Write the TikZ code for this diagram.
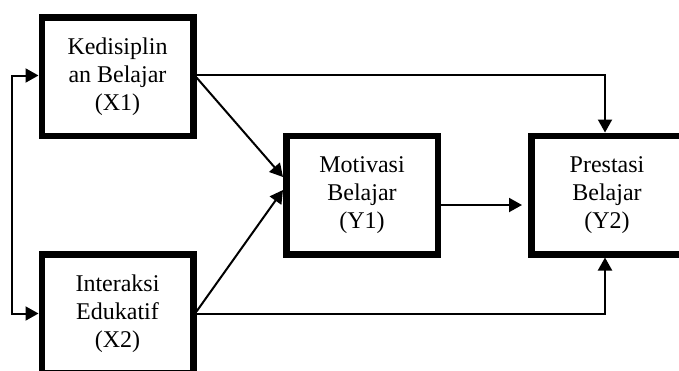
\documentclass[tikz,border=0pt]{standalone}
\usepackage{fontspec}
\setmainfont{Liberation Serif}
\usetikzlibrary{arrows.meta}
\begin{document}
\begin{tikzpicture}[x=1pt,y=-1pt,
  boxnode/.style={draw, line width=6.5pt, minimum width=151.5pt, minimum height=118.5pt,
    inner sep=0pt, align=center, font={\fontsize{24pt}{28pt}\selectfont}},
  conn/.style={line width=2pt, -{Triangle[length=13pt,width=14pt]}},
  conn2/.style={line width=2pt, {Triangle[length=13pt,width=14pt]}-{Triangle[length=13pt,width=14pt]}}]
\clip (0,0) rectangle (679,370);
\fill[white] (0,0) rectangle (679,370);
\node[boxnode] (x1) at (117.5,76.5) {Kedisiplin\\an Belajar\\(X1)};
\node[boxnode] (x2) at (117.5,313.5) {Interaksi\\Edukatif\\(X2)};
\node[boxnode] (y1) at (362,195) {Motivasi\\Belajar\\(Y1)};
\node[boxnode] (y2) at (607,195) {Prestasi\\Belajar\\(Y2)};
\draw[conn] ([yshift=1.5pt]x1.east) -| ([xshift=-2pt]y2.north);
\draw[conn] (x2.east) -| ([xshift=-2pt]y2.south);
\draw[conn] ([yshift=-1pt]x1.east) -- ([yshift=18pt]y1.west);
\draw[conn] ([yshift=2pt]x2.east) -- ([yshift=5pt]y1.west);
\draw[conn, shorten >=6pt] ([yshift=-10pt]y1.east) -- ([yshift=-10pt]y2.west);
\draw[conn2] ([yshift=1pt]x1.west) -- ++(-27,0) |- (x2.west);
\end{tikzpicture}
\end{document}
